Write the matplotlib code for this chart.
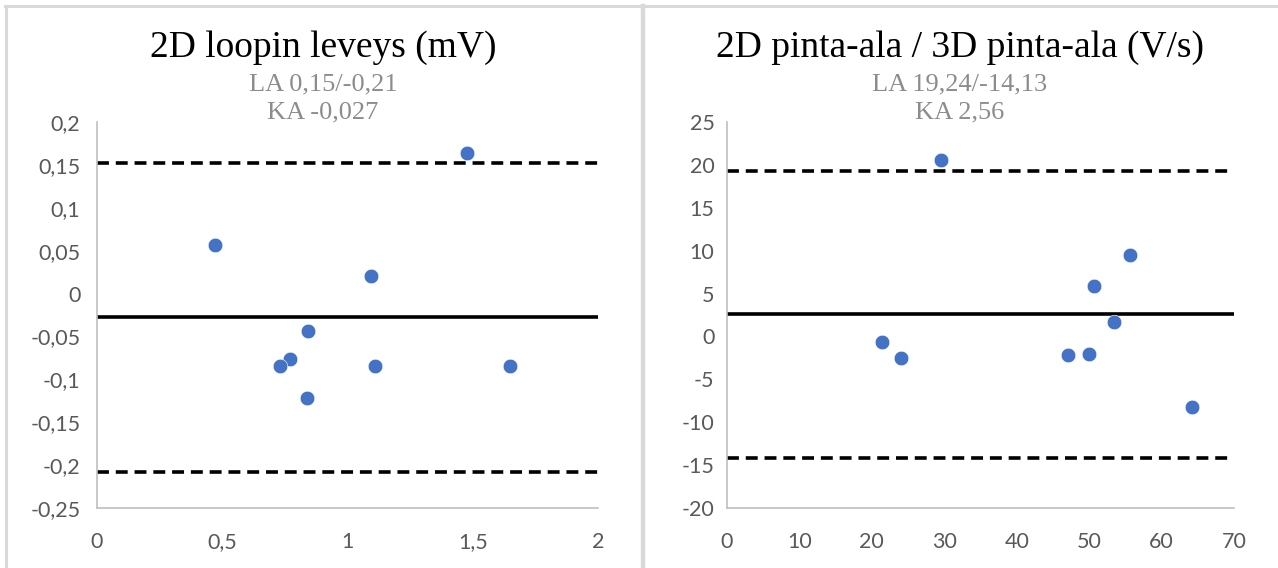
import matplotlib
matplotlib.use("Agg")
import matplotlib.pyplot as plt
from matplotlib.lines import Line2D
from matplotlib.ticker import FuncFormatter

# ---- data ----
left_title = "2D loopin leveys (mV)"
left_sub = ["LA 0,15/-0,21", "KA -0,027"]
left_x = [0.471, 1.477, 1.094, 0.842, 0.770, 0.731, 1.110, 0.838, 1.649]
left_y = [0.057, 0.164, 0.021, -0.044, -0.076, -0.085, -0.084, -0.122, -0.084]
left_mean = -0.027
left_upper = 0.152
left_lower = -0.208
left_xticks = [0, 0.5, 1, 1.5, 2]
left_yticks = [-0.25, -0.2, -0.15, -0.1, -0.05, 0, 0.05, 0.1, 0.15, 0.2]

right_title = "2D pinta-ala / 3D pinta-ala (V/s)"
right_sub = ["LA 19,24/-14,13", "KA 2,56"]
right_x = [29.5, 55.7, 50.7, 53.5, 21.4, 24.0, 47.1, 50.0, 64.2]
right_y = [20.6, 9.5, 5.9, 1.7, -0.6, -2.5, -2.2, -2.1, -8.2]
right_mean = 2.56
right_upper = 19.24
right_lower = -14.13
right_xticks = [0, 10, 20, 30, 40, 50, 60, 70]
right_yticks = [-20, -15, -10, -5, 0, 5, 10, 15, 20, 25]

W, H = 1278, 568
fig = plt.figure(figsize=(W / 100, H / 100), dpi=100)

def fmt(v, pos=None):
    return ("%g" % v).replace(".", ",")

def panel(rect, xs, ys, mean, up, lo, xt, yt, title, sub, title_x, ypad):
    ax = fig.add_axes(rect)
    ax.set_xlim(xt[0], xt[-1])
    ax.set_ylim(yt[0], yt[-1])
    ax.plot([xt[0], xt[-1]], [mean, mean], color="black", lw=2.6, solid_capstyle="butt", zorder=2)
    for v in (up, lo):
        ax.plot([xt[0], xt[-1]], [v, v], color="black", lw=2.6, dashes=(3.3, 1.9), zorder=2)
    ax.plot(xs, ys, "o", color="#4472C4", ms=10.5, mec="white", mew=0.4, zorder=3, clip_on=False)
    ax.set_xticks(xt)
    ax.set_yticks(yt)
    ax.xaxis.set_major_formatter(FuncFormatter(fmt))
    ax.yaxis.set_major_formatter(FuncFormatter(fmt))
    ax.tick_params(axis="x", length=0, pad=17)
    ax.tick_params(axis="y", length=0, pad=ypad)
    for lab in ax.get_xticklabels() + ax.get_yticklabels():
        lab.set_fontfamily(["Lato", "DejaVu Sans"])
        lab.set_fontsize(15.5)
        lab.set_color("#595959")
    for s in ("top", "right"):
        ax.spines[s].set_visible(False)
    for s in ("left", "bottom"):
        ax.spines[s].set_color("#bfbfbf")
        ax.spines[s].set_linewidth(1.2)
    fig.text(title_x, 1 - 48 / H, title, ha="center", va="center",
             family=["Liberation Serif"], size=27, color="black")
    fig.text(title_x, 1 - 84 / H, sub[0], ha="center", va="center",
             family=["Liberation Serif"], size=19, color="#8c8c8c")
    fig.text(title_x, 1 - 112 / H, sub[1], ha="center", va="center",
             family=["Liberation Serif"], size=19, color="#8c8c8c")
    return ax

panel([97 / W, 1 - 508 / H, 501 / W, 386 / H], left_x, left_y, left_mean, left_upper,
      left_lower, left_xticks, left_yticks, left_title, left_sub, 323 / W, 12)
panel([727 / W, 1 - 508 / H, 507 / W, 386 / H], right_x, right_y, right_mean, right_upper,
      right_lower, right_xticks, right_yticks, right_title, right_sub, 960 / W, 9)

# panel frames
fc = "#d9d9d9"
fig.add_artist(Line2D([5 / W, 1], [1 - 6 / H, 1 - 6 / H], color=fc, lw=2.2))
fig.add_artist(Line2D([6 / W, 6 / W], [0, 1 - 6 / H], color=fc, lw=2.2))
fig.add_artist(Line2D([642.5 / W, 642.5 / W], [0, 1 - 6 / H], color=fc, lw=3.2))

fig.savefig("out.png", dpi=100)
